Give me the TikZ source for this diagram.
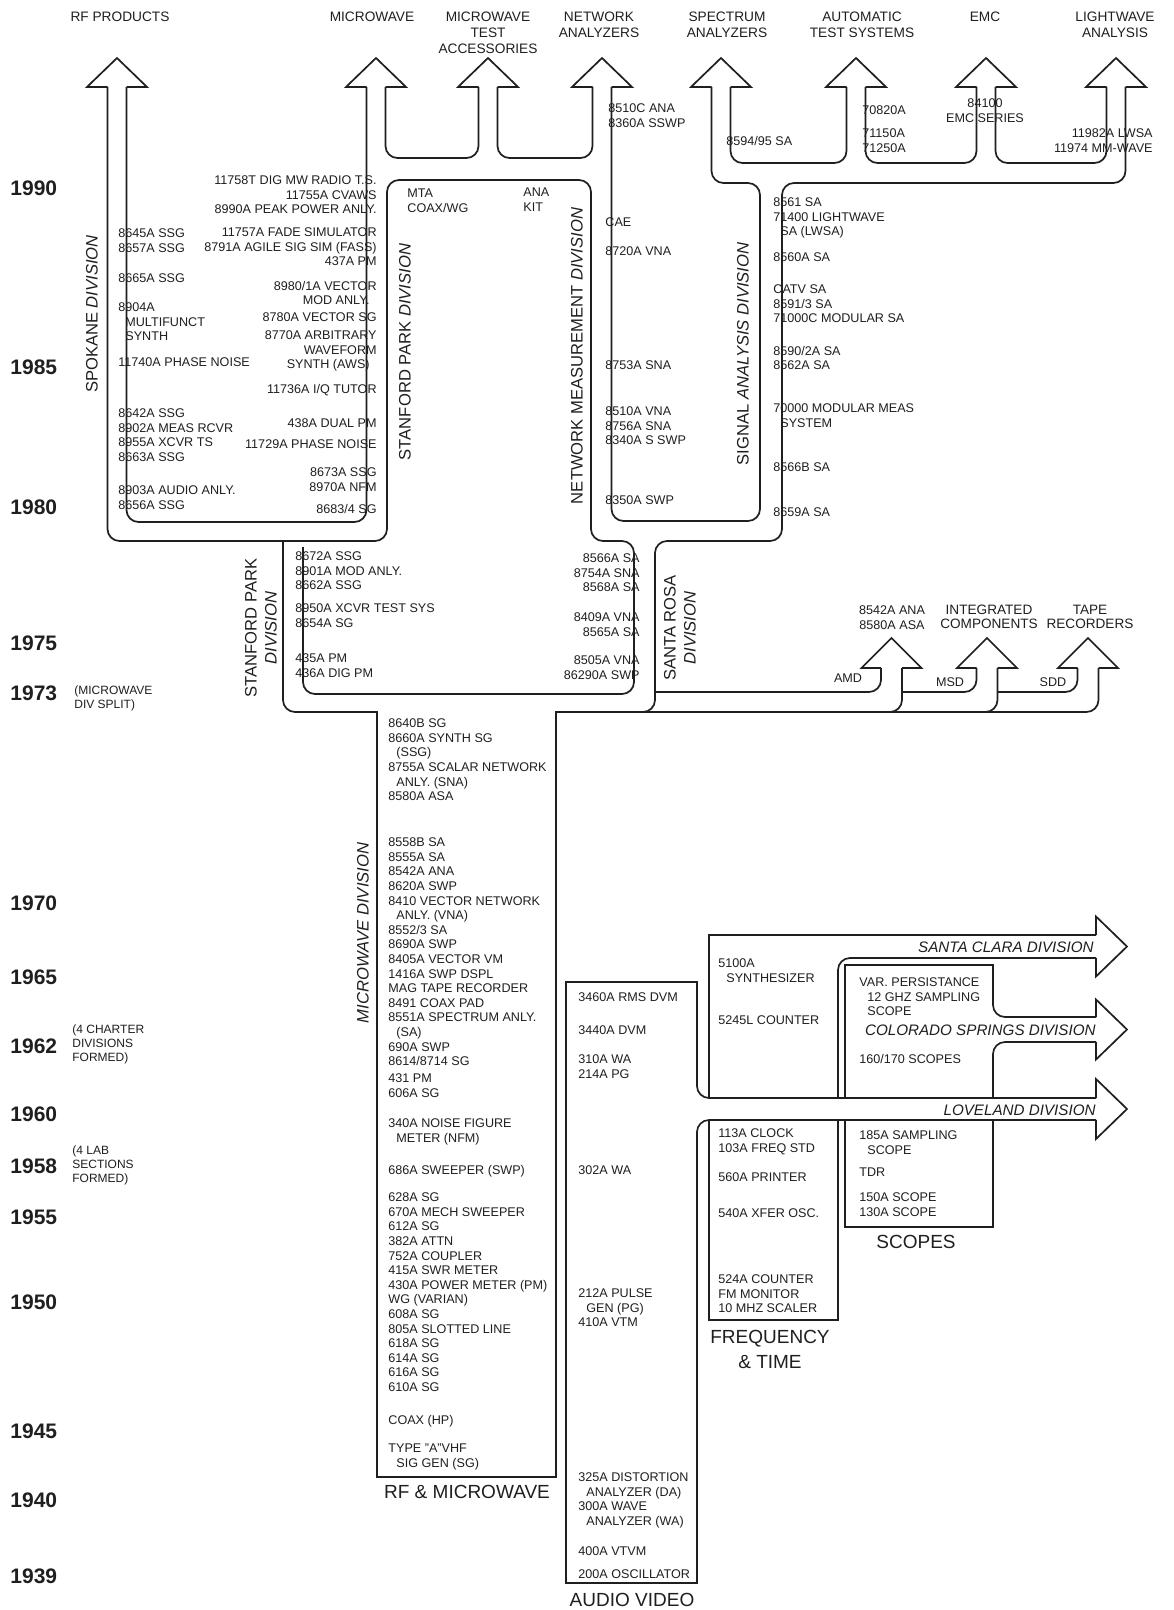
\documentclass[tikz,border=0pt]{standalone}
\usepackage{fontspec}
\setmainfont{Liberation Sans}
\definecolor{ink}{gray}{0.12}

\begin{document}
\begin{tikzpicture}[x=0.5pt, y=-0.5pt,
    tube/.style={draw=ink, line width=0.85pt, rounded corners=6pt},
    boxln/.style={draw=ink, line width=0.85pt},
    itm/.style={font=\fontsize{6.3}{7.3}\selectfont, text=ink, inner sep=0pt, align=left, anchor=north west},
    itmr/.style={itm, align=right, anchor=north east},
    toplbl/.style={font=\fontsize{6.85}{8}\selectfont, text=ink, inner sep=0pt, align=center, anchor=north},
    eastlbl/.style={toplbl, font=\fontsize{6.8}{6.8}\selectfont},
    divlbl/.style={font=\fontsize{8.3}{10}\selectfont, text=ink, inner sep=0pt, align=center, rotate=90},
    biglbl/.style={font=\fontsize{9.5}{12.5}\selectfont, text=ink, inner sep=0pt, align=center},
    flowlbl/.style={font=\fontsize{7.6}{9}\selectfont\itshape, text=ink, inner sep=0pt, anchor=east},
    yr/.style={font=\fontsize{10.5}{12}\selectfont\bfseries, text=ink, inner sep=0pt, anchor=west},
    yrnote/.style={font=\fontsize{6}{7}\selectfont, text=ink, inner sep=0pt, align=left, anchor=north west}
]
\path[fill=white, use as bounding box] (0,0) rectangle (1173,1610);

\foreach \y/\t in {188/1990, 367/1985, 507/1980, 643/1975, 693/1973, 903/1970, 977/1965, 1046/1962,
    1114/1960, 1166/1958, 1217/1955, 1302/1950, 1431/1945, 1500/1940, 1576/1939}
  \node[yr] (y\t) at (10,\y) {\t};
\node[yrnote] (split) at (74,685) {(MICROWAVE\\DIV SPLIT)};
\node[yrnote] (charter) at (72,1024) {(4 CHARTER\\DIVISIONS\\FORMED)};
\node[yrnote] (labsec) at (72,1145) {(4 LAB\\SECTIONS\\FORMED)};

\node[toplbl] (rfp) at (120,12) {RF PRODUCTS};
\node[toplbl] (mwp) at (372,12) {MICROWAVE};
\node[toplbl] (mtap) at (488,12) {MICROWAVE\\TEST\\ACCESSORIES};
\node[toplbl] (nap) at (599,12) {NETWORK\\ANALYZERS};
\node[toplbl] (sap) at (727,12) {SPECTRUM\\ANALYZERS};
\node[toplbl] (atsp) at (862,12) {AUTOMATIC\\TEST SYSTEMS};
\node[toplbl] (emcp) at (985,12) {EMC};
\node[toplbl] (lwp) at (1115,12) {LIGHTWAVE\\ANALYSIS};

\foreach \c in {117,376,488,602,721,856,986,1116}
  \draw[boxln] (\c-9.5,87) -- (\c-30,87) -- (\c,58) -- (\c+30,87) -- (\c+9.5,87);
\foreach \c in {891.5,987,1088}
  \draw[boxln] (\c-10.5,668) -- (\c-30,668) -- (\c,638) -- (\c+30,668) -- (\c+10.5,668);
\foreach \a/\b in {935/958,1017/1042,1098/1120}
  \draw[boxln] (1096,\a) -- (1096,{(\a+\b)/2-30}) -- (1127,{(\a+\b)/2}) -- (1096,{(\a+\b)/2+30}) -- (1096,\b);

\draw[tube] (107.5,87) -- (107.5,541) -- (387,541) -- (387,180) -- (591,180) -- (591,541) -- (634,541) -- (634,694) -- (303,694) -- (303,547);
\draw[tube] (126.5,87) -- (126.5,522) -- (366.5,522) -- (366.5,87);
\draw[tube] (385.5,87) -- (385.5,158) -- (478.5,158) -- (478.5,87);
\draw[tube] (497.5,87) -- (497.5,158) -- (592.5,158) -- (592.5,87);
\draw[tube] (711.5,87) -- (711.5,183) -- (760,183) -- (760,521) -- (611.5,521) -- (611.5,87);
\draw[tube] (730.5,87) -- (730.5,163) -- (846.5,163) -- (846.5,87);
\draw[tube] (865.5,87) -- (865.5,163) -- (976.5,163) -- (976.5,87);
\draw[tube] (995.5,87) -- (995.5,163) -- (1106.5,163) -- (1106.5,87);
\draw[tube] (1125.5,87) -- (1125.5,183) -- (782,183) -- (782,541) -- (655,541) -- (655,712) -- (625,712);

\draw[tube] (283,541) -- (283,712) -- (330,712);
\draw[boxln] (330,712) -- (377,712) -- (377,1477) -- (556,1477) -- (556,712) -- (600,712);
\draw[tube] (600,712) -- (1098.5,712) -- (1098.5,668);
\draw[tube] (655,692) -- (881,692) -- (881,668);
\draw[tube] (902,668) -- (902,712) -- (870,712);
\draw[tube] (902,692) -- (976.5,692) -- (976.5,668);
\draw[tube] (997.5,668) -- (997.5,712) -- (965,712);
\draw[tube] (997.5,692) -- (1077.5,692) -- (1077.5,668);

\draw[tube] (1096,1098) -- (697,1098) -- (697,1040);
\draw[boxln] (697,1040) -- (697,982) -- (566,982) -- (566,1583) -- (697,1583) -- (697,1170);
\draw[tube] (697,1170) -- (697,1120) -- (1096,1120);
\draw[boxln] (1096,935) -- (709,935) -- (709,1098);
\draw[boxln] (709,1120) -- (709,1320) -- (838,1320) -- (838,1120);
\draw[tube] (838,1098) -- (838,958) -- (1096,958);
\draw[boxln] (845,1098) -- (845,965) -- (993,965) -- (993,985);
\draw[tube] (993,985) -- (993,1017) -- (1096,1017);
\draw[tube] (1096,1042) -- (993,1042) -- (993,1075);
\draw[boxln] (993,1075) -- (993,1098);
\draw[boxln] (993,1120) -- (993,1227) -- (845,1227) -- (845,1120);

\node[divlbl] (spk) at (92,314) {SPOKANE \textit{DIVISION}};
\node[divlbl] (sp80) at (405,352) {STANFORD PARK \textit{DIVISION}};
\node[divlbl] (nmd) at (577,356) {NETWORK MEASUREMENT \textit{DIVISION}};
\node[divlbl] (sad) at (743,354) {SIGNAL \textit{ANALYSIS DIVISION}};
\node[divlbl] (sp73) at (261,628) {STANFORD PARK\\\textit{DIVISION}};
\node[divlbl] (srd) at (680,628) {SANTA ROSA\\\textit{DIVISION}};
\node[divlbl] (mwd) at (363,933) {\textit{MICROWAVE DIVISION}};
\node[flowlbl] (scd) at (1094,947) {SANTA CLARA DIVISION};
\node[flowlbl] (csd) at (1096,1030) {COLORADO SPRINGS DIVISION};
\node[flowlbl] (lvd) at (1096,1110) {LOVELAND DIVISION};

\node[itm] (na1) at (608,103.5) {8510C ANA\\8360A SSWP};
\node[itm] (sa0) at (726,135.5) {8594/95 SA};
\node[itm] (ats1) at (862,105.5) {70820A};
\node[itm] (ats2) at (862,128.5) {71150A\\71250A};
\node[itm, anchor=north, align=center] (emc1) at (985,98.5) {84100\\EMC SERIES};
\node[itmr] (lw1) at (1153,128.5) {11982A LWSA\\11974 MM-WAVE};

\node[itm] (sk1) at (118,228.5) {8645A SSG\\8657A SSG};
\node[itm] (sk2) at (118,273.5) {8665A SSG};
\node[itm] (sk3) at (118,302.5) {8904A\\\hspace*{3.5pt}MULTIFUNCT\\\hspace*{3.5pt}SYNTH};
\node[itm] (sk4) at (118,357.5) {11740A PHASE NOISE};
\node[itm] (sk5) at (118,408.5) {8642A SSG\\8902A MEAS RCVR\\8955A XCVR TS\\8663A SSG};
\node[itm] (sk6) at (118,485.5) {8903A AUDIO ANLY.\\8656A SSG};

\node[itmr] (pk1) at (377,175.5) {11758T DIG MW RADIO T.S.\\11755A CVAWS\\8990A PEAK POWER ANLY.};
\node[itmr] (pk2) at (377,227.5) {11757A FADE SIMULATOR\\8791A AGILE SIG SIM (FASS)\\437A PM};
\node[itmr] (pk3) at (377,280.5) {8980/1A VECTOR\\MOD ANLY.\hspace*{3.5pt}};
\node[itmr] (pk4) at (377,312.5) {8780A VECTOR SG};
\node[itmr] (pk5) at (377,330.5) {8770A ARBITRARY\\WAVEFORM\hspace*{4pt}\\SYNTH (AWS)\hspace*{3.5pt}};
\node[itmr] (pk6) at (377,383.5) {11736A I/Q TUTOR};
\node[itmr] (pk7) at (377,418.5) {438A DUAL PM};
\node[itmr] (pk8) at (377,439.5) {11729A PHASE NOISE};
\node[itmr] (pk9) at (377,467.5) {8673A SSG\\8970A NFM};
\node[itmr] (pk10) at (377,503.5) {8683/4 SG};

\node[itm] (mta) at (407,188.5) {MTA\\COAX/WG};
\node[itm] (ana) at (523,187.5) {ANA\\KIT};

\node[itm] (nm1) at (605,217.5) {CAE};
\node[itm] (nm2) at (605,246.5) {8720A VNA};
\node[itm] (nm3) at (605,360.5) {8753A SNA};
\node[itm] (nm4) at (605,406.5) {8510A VNA\\8756A SNA\\8340A S SWP};
\node[itm] (nm5) at (605,495.5) {8350A SWP};

\node[itm] (sg1) at (773,197.5) {8561 SA\\71400 LIGHTWAVE\\\hspace*{3.5pt}SA (LWSA)};
\node[itm] (sg2) at (773,252.5) {8560A SA};
\node[itm] (sg3) at (773,284.5) {CATV SA\\8591/3 SA\\71000C MODULAR SA};
\node[itm] (sg4) at (773,345.5) {8590/2A SA\\8562A SA};
\node[itm] (sg5) at (773,403.5) {70000 MODULAR MEAS\\\hspace*{3.5pt}SYSTEM};
\node[itm] (sg6) at (773,462.5) {8566B SA};
\node[itm] (sg7) at (773,507.5) {8659A SA};

\node[itm] (st1) at (295,551.5) {8672A SSG\\8901A MOD ANLY.\\8662A SSG};
\node[itm] (st2) at (295,603.5) {8950A XCVR TEST SYS\\8654A SG};
\node[itm] (st3) at (295,653.5) {435A PM\\436A DIG PM};
\node[itmr] (sr1) at (640,553.5) {8566A SA\\8754A SNA\\8568A SA};
\node[itmr] (sr2) at (640,612.5) {8409A VNA\\8565A SA};
\node[itmr] (sr3) at (640,655.5) {8505A VNA\\86290A SWP};

\node[itm, anchor=north, align=center] (amdp) at (892,605.5) {8542A ANA\\8580A ASA};
\node[eastlbl] (msdp) at (989,605) {INTEGRATED\\COMPONENTS};
\node[eastlbl] (sddp) at (1090,605) {TAPE\\RECORDERS};
\node[itm, anchor=center] (amd) at (848,678) {AMD};
\node[itm, anchor=center] (msd) at (950,682) {MSD};
\node[itm, anchor=center] (sdd) at (1053,682) {SDD};

\node[itm] (mw1) at (388,718.5) {8640B SG\\8660A SYNTH SG\\\hspace*{4pt}(SSG)\\8755A SCALAR NETWORK\\\hspace*{4pt}ANLY. (SNA)\\8580A ASA};
\node[itm] (mw2) at (388,837.5) {8558B SA\\8555A SA\\8542A ANA\\8620A SWP\\8410 VECTOR NETWORK\\\hspace*{4pt}ANLY. (VNA)\\8552/3 SA\\8690A SWP\\8405A VECTOR VM\\1416A SWP DSPL\\MAG TAPE RECORDER\\8491 COAX PAD\\8551A SPECTRUM ANLY.\\\hspace*{4pt}(SA)\\690A SWP\\8614/8714 SG};
\node[itm] (mw3) at (388,1073.5) {431 PM\\606A SG};
\node[itm] (mw4) at (388,1118.5) {340A NOISE FIGURE\\\hspace*{4pt}METER (NFM)};
\node[itm] (mw5) at (388,1164.5) {686A SWEEPER (SWP)};
\node[itm] (mw6) at (388,1192.5) {628A SG\\670A MECH SWEEPER\\612A SG\\382A ATTN\\752A COUPLER\\415A SWR METER\\430A POWER METER (PM)\\WG (VARIAN)\\608A SG\\805A SLOTTED LINE\\618A SG\\614A SG\\616A SG\\610A SG};
\node[itm] (mw7) at (388,1414.5) {COAX (HP)};
\node[itm] (mw8) at (388,1443.5) {TYPE "A"VHF\\\hspace*{4pt}SIG GEN (SG)};

\node[itm] (av1) at (578,992.5) {3460A RMS DVM};
\node[itm] (av2) at (578,1025.5) {3440A DVM};
\node[itm] (av3) at (578,1054.5) {310A WA\\214A PG};
\node[itm] (av4) at (578,1165.5) {302A WA};
\node[itm] (av5) at (578,1288.5) {212A PULSE\\\hspace*{4pt}GEN (PG)\\410A VTM};
\node[itm] (av6) at (578,1472.5) {325A DISTORTION\\\hspace*{4pt}ANALYZER (DA)\\300A WAVE\\\hspace*{4pt}ANALYZER (WA)};
\node[itm] (av7) at (578,1546.5) {400A VTVM};
\node[itm] (av8) at (578,1569.5) {200A OSCILLATOR};

\node[itm] (ft1) at (718,958.5) {5100A\\\hspace*{4pt}SYNTHESIZER};
\node[itm] (ft2) at (718,1015.5) {5245L COUNTER};
\node[itm] (ft3) at (718,1128.5) {113A CLOCK\\103A FREQ STD};
\node[itm] (ft4) at (718,1172.5) {560A PRINTER};
\node[itm] (ft5) at (718,1208.5) {540A XFER OSC.};
\node[itm] (ft6) at (718,1274.5) {524A COUNTER\\FM MONITOR\\10 MHZ SCALER};

\node[itm] (sc1) at (859,977.5) {VAR. PERSISTANCE\\\hspace*{4pt}12 GHZ SAMPLING\\\hspace*{4pt}SCOPE};
\node[itm] (sc2) at (859,1053.5) {160/170 SCOPES};
\node[itm] (sc3) at (859,1130.5) {185A SAMPLING\\\hspace*{4pt}SCOPE};
\node[itm] (sc4) at (859,1167.5) {TDR};
\node[itm] (sc5) at (859,1192.5) {150A SCOPE\\130A SCOPE};

\node[biglbl] (rfmw) at (467,1492) {RF \& MICROWAVE};
\node[biglbl] (audio) at (632,1600) {AUDIO VIDEO};
\node[biglbl, anchor=north] (freq) at (770,1330) {FREQUENCY\\\& TIME};
\node[biglbl] (scopes) at (916,1242) {SCOPES};
\end{tikzpicture}
\end{document}
